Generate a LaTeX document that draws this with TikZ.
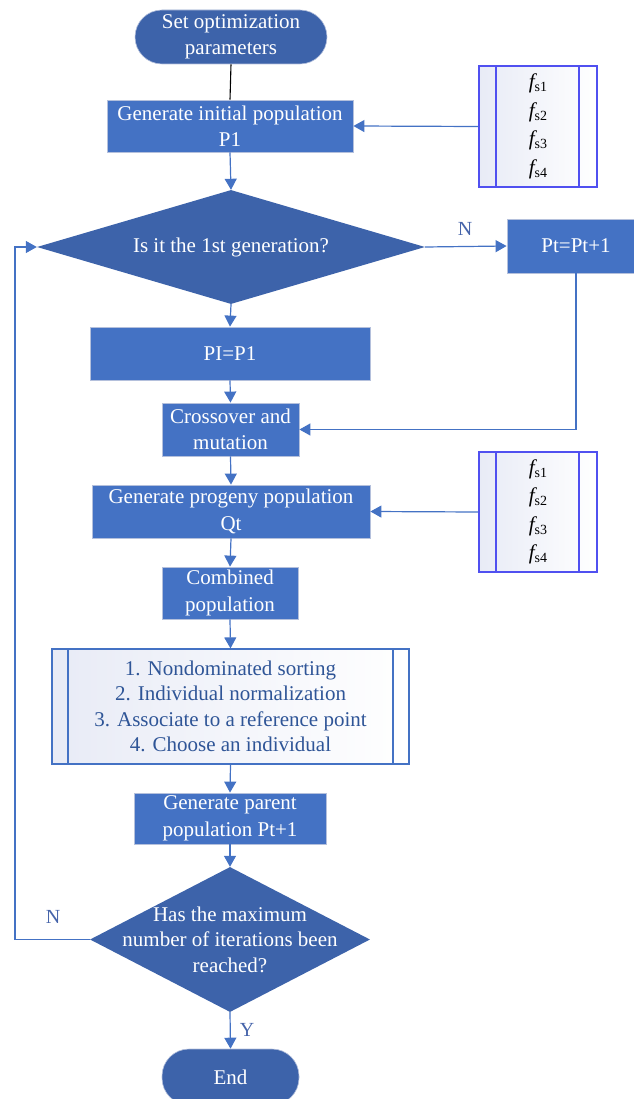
\documentclass[tikz,border=0pt]{standalone}
\usepackage{fontspec}
\setmainfont{Liberation Serif}
\usetikzlibrary{arrows.meta,shapes.geometric}
\definecolor{darkfill}{RGB}{61,99,170}
\definecolor{boxfill}{RGB}{68,114,196}
\definecolor{boxedge}{RGB}{180,192,220}
\definecolor{linecol}{RGB}{68,114,196}
\definecolor{fsedge}{RGB}{80,80,240}
\definecolor{fsleft}{RGB}{232,235,246}
\definecolor{steptext}{RGB}{47,85,151}
\definecolor{labcol}{RGB}{70,100,170}
\tikzset{
  base/.style={font=\fontsize{21}{26.5}\selectfont, align=center, inner sep=0pt},
  terminal/.style={base, fill=darkfill, draw=boxedge, line width=0.6pt, text=white, rounded corners=27pt},
  procbox/.style={base, rectangle, fill=boxfill, draw=boxedge, line width=0.8pt, text=white},
  decision/.style={diamond, fill=darkfill, draw=none, inner sep=0pt},
  dlabel/.style={base, text=white},
  fsbox/.style={base, rectangle, draw=fsedge, line width=1.6pt, left color=fsleft, right color=white, text=black,
    path picture={
      \draw[fsedge, line width=1.4pt] ([xshift=17pt]path picture bounding box.north west) -- ([xshift=17pt]path picture bounding box.south west);
      \draw[fsedge, line width=1.4pt] ([xshift=-18pt]path picture bounding box.north east) -- ([xshift=-18pt]path picture bounding box.south east);
    }},
  stepsbox/.style={base, rectangle, draw=linecol, line width=1.2pt, left color=fsleft, right color=white, text=steptext,
    path picture={
      \draw[linecol, line width=1.1pt] ([xshift=16pt]path picture bounding box.north west) -- ([xshift=16pt]path picture bounding box.south west);
      \draw[linecol, line width=1.1pt] ([xshift=-16pt]path picture bounding box.north east) -- ([xshift=-16pt]path picture bounding box.south east);
    }},
  arr/.style={draw=linecol, line width=1.2pt, -{Triangle[length=11pt,width=12pt]}},
  plain/.style={draw=black, line width=1.1pt},
  yn/.style={font=\fontsize{20}{24}\selectfont, text=labcol, inner sep=0pt},
}
\newcommand{\fsl}[1]{{\itshape f}\raisebox{-0.3ex}{\fontsize{14}{14}\selectfont s#1}}
\begin{document}
\begin{tikzpicture}[x=1pt,y=-1pt]
\useasboundingbox (0,0) rectangle (633,1099);

\node[terminal, minimum width=192pt, minimum height=54pt] (start) at (231,37) {Set optimization\\parameters};
\node[procbox, minimum width=246pt, minimum height=52pt] (box1) at (230,126) {Generate initial population\\P1};
\node[fsbox, minimum width=118pt, minimum height=121pt, font=\fontsize{21}{28.5}\selectfont] (fsA) at (538,126.5) {\fsl1\\\fsl2\\\fsl3\\\fsl4};
\node[decision, minimum width=388pt, minimum height=114pt,
  label={[dlabel]center:Is it the 1st generation?}] (d1) at (231,247) {};
\node[procbox, minimum width=138pt, minimum height=54pt] (pt) at (576,246) {Pt=Pt+1};
\node[procbox, minimum width=280pt, minimum height=53pt] (pi) at (230,353.5) {PI=P1};
\node[procbox, minimum width=137pt, minimum height=53pt] (cross) at (230.5,429.5) {Crossover and\\mutation};
\node[procbox, minimum width=278pt, minimum height=53pt] (prog) at (231,511.5) {Generate progeny population\\Qt};
\node[fsbox, minimum width=118pt, minimum height=120pt, font=\fontsize{21}{28.5}\selectfont] (fsB) at (538,512) {\fsl1\\\fsl2\\\fsl3\\\fsl4};
\node[procbox, minimum width=136pt, minimum height=52pt] (comb) at (230,593) {Combined\\population};
\node[stepsbox, minimum width=357pt, minimum height=115pt, font=\fontsize{21}{25.5}\selectfont] (steps) at (230.5,706.5) {1. Nondominated sorting\\2. Individual normalization\\3. Associate to a reference point\\4. Choose an individual};
\node[procbox, minimum width=192pt, minimum height=51pt] (par) at (230,818.5) {Generate parent\\population Pt+1};
\node[decision, minimum width=280pt, minimum height=145pt,
  label={[dlabel, font=\fontsize{21}{25.5}\selectfont]center:Has the maximum\\number of iterations been\\reached?}] (d2) at (230,939.5) {};
\node[terminal, minimum width=137pt, minimum height=56pt] (end) at (230.5,1077) {End};

\coordinate (loopB) at (15,939.5);
\coordinate (loopT) at (15,247);

\draw[plain] (start.south) -- (box1.north);
\draw[arr] (fsA.west) -- (box1.east);
\draw[arr] (box1.south) -- (d1.north);
\draw[arr] (d1.east) -- (pt.west);
\draw[arr] (pt.south) |- (cross.east);
\draw[arr] (d1.south) -- (pi.north);
\draw[arr] (pi.south) -- (cross.north);
\draw[arr] (cross.south) -- (prog.north);
\draw[arr] (fsB.west) -- (prog.east);
\draw[arr] (prog.south) -- (comb.north);
\draw[arr] (comb.south) -- (steps.north);
\draw[arr] (steps.south) -- (par.north);
\draw[arr] (par.south) -- (d2.north);
\draw[arr] (d2.south) -- (end.north);
\draw[arr] (d2.west) -- (loopB) -- (loopT) -- (d1.west);

\node[yn] (lN1) at (465,229) {N};
\node[yn] (lN2) at (53,917) {N};
\node[yn] (lY) at (247,1030) {Y};
\end{tikzpicture}
\end{document}
